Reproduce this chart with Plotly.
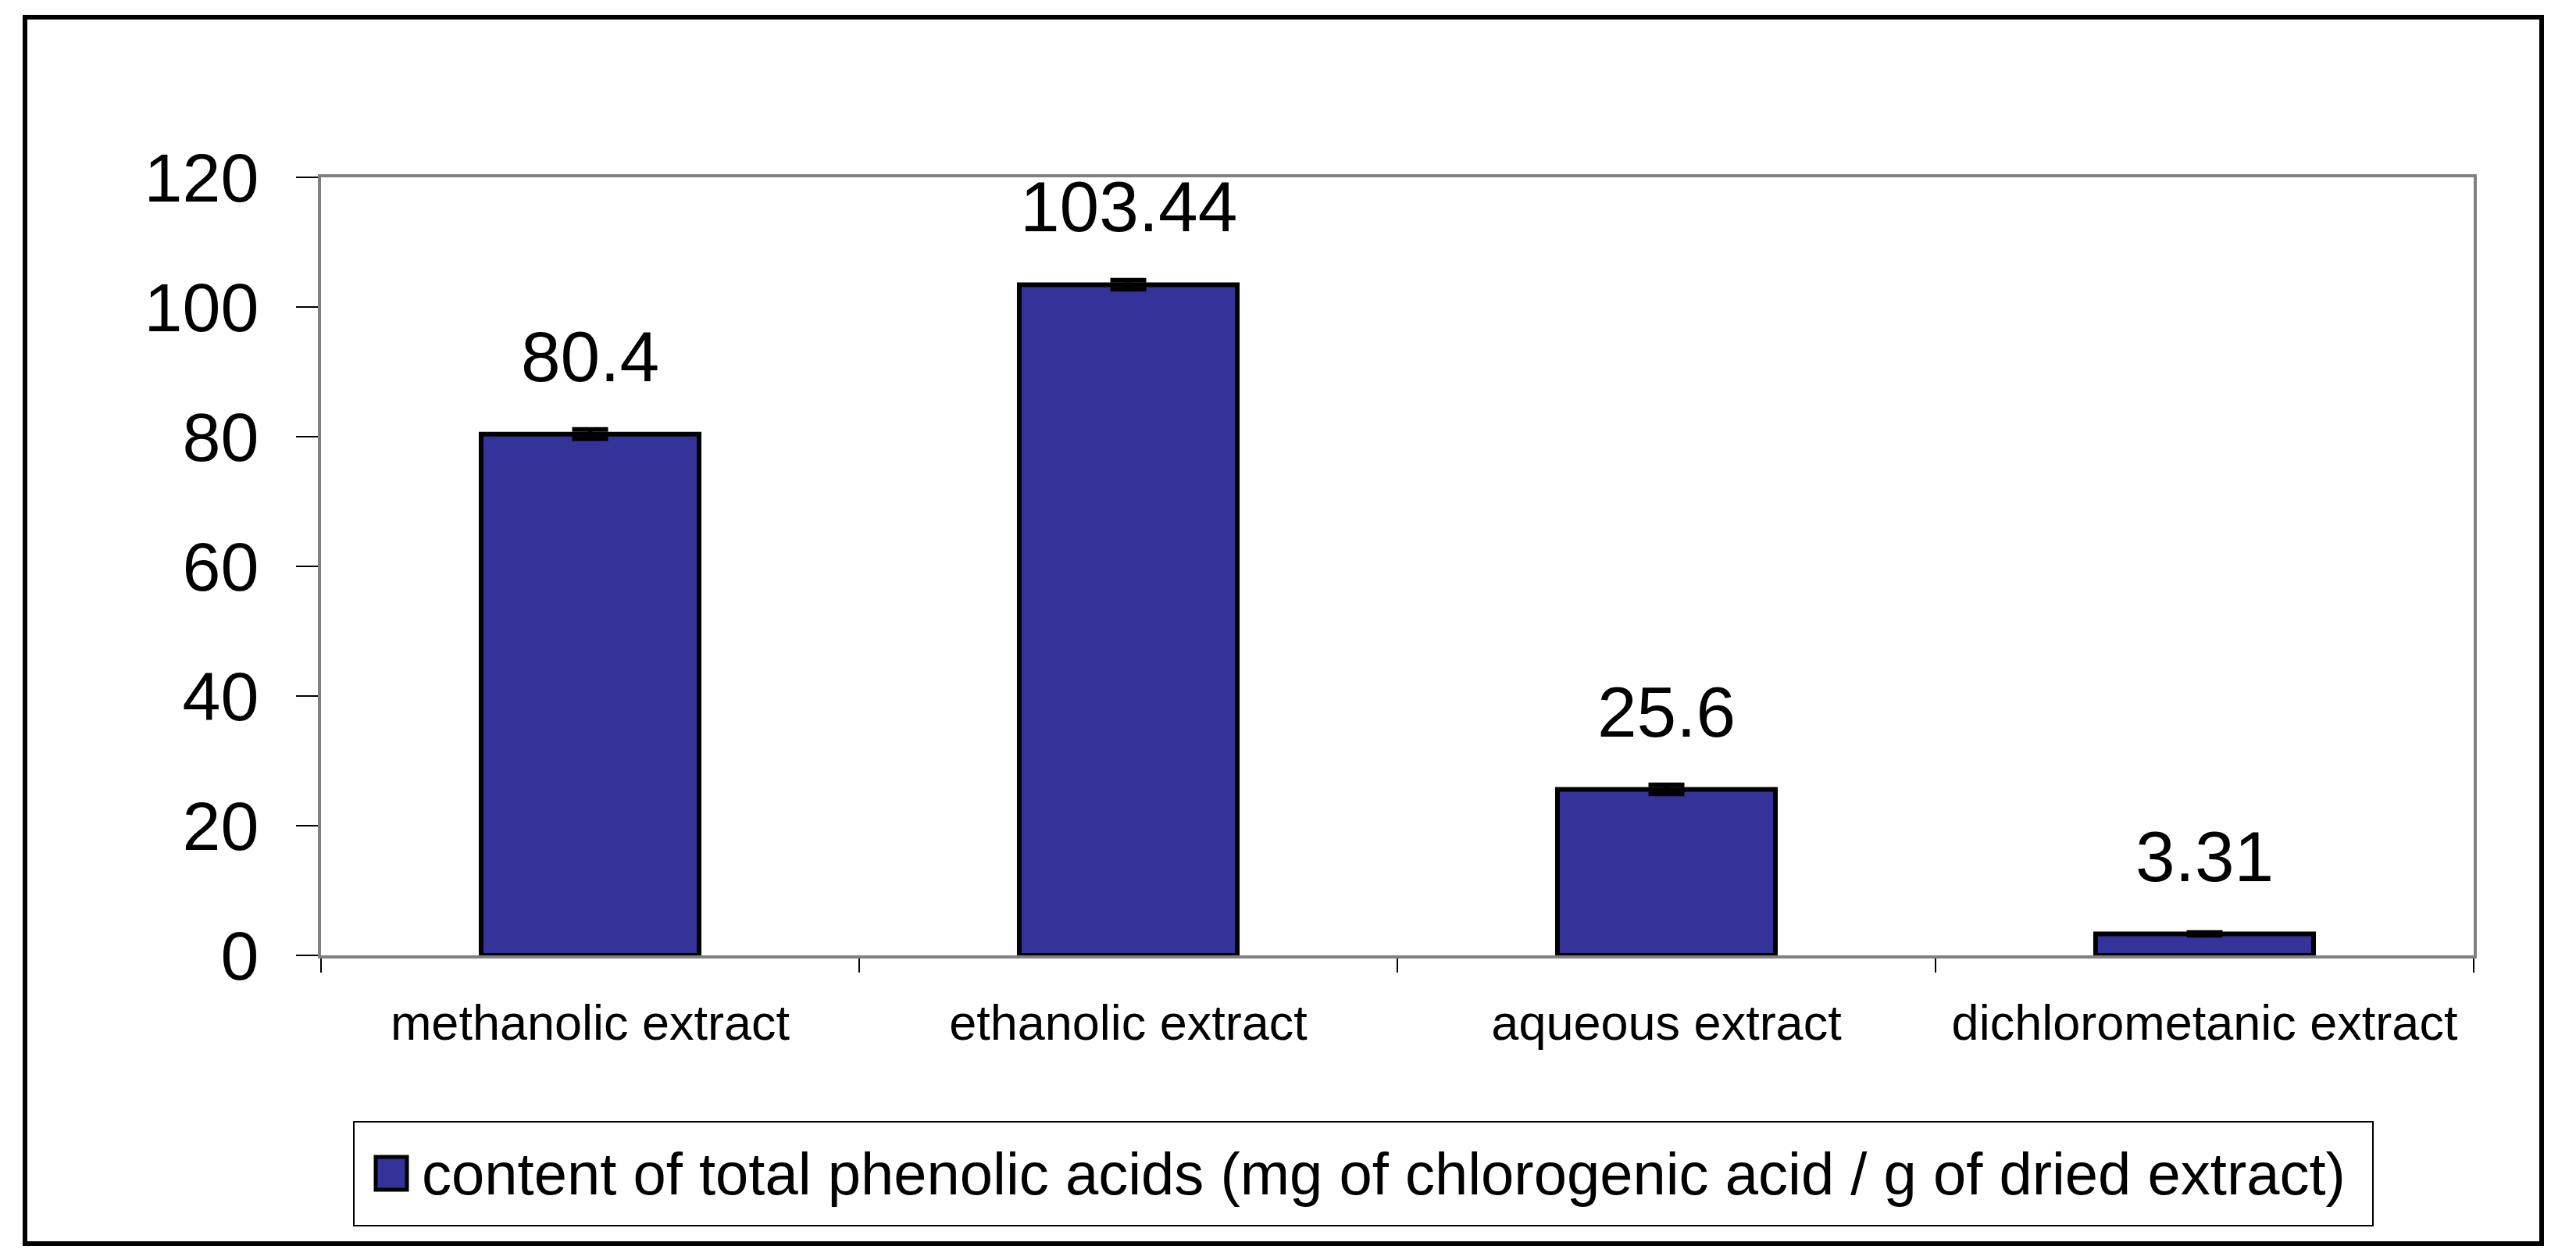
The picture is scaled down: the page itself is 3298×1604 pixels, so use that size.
import plotly.graph_objects as go

categories = ["methanolic extract", "ethanolic extract", "aqueous extract", "dichlorometanic extract"]
values = [80.4, 103.44, 25.6, 3.31]
errors = [0.7, 0.7, 0.7, 0.2]
value_labels = ["80.4", "103.44", "25.6", "3.31"]
series_name = "content of total phenolic acids (mg of chlorogenic acid / g of dried extract)"
y_ticks = [0, 20, 40, 60, 80, 100, 120]

W, H = 3298, 1604
PL, PR, PT, PB = 403, 3159, 219, 1215
FONT = "Arial, Liberation Sans, sans-serif"
BAR_COLOR = "#333399"


def px(x):
    return (x - PL) / (PR - PL)


def py(y):
    return (PB - y) / (PB - PT)


fig = go.Figure()
fig.add_trace(
    go.Bar(
        x=categories,
        y=values,
        name=series_name,
        marker=dict(color=BAR_COLOR, line=dict(color="black", width=6)),
        error_y=dict(type="data", array=errors, color="black", thickness=6, width=23),
        showlegend=False,
    )
)

for cat, val, lab in zip(categories, values, value_labels):
    fig.add_annotation(
        x=cat, y=val, text=lab, showarrow=False,
        yanchor="bottom", yshift=47,
        font=dict(family=FONT, size=91, color="black"),
    )

# outer chart border
fig.add_shape(
    type="rect", xref="paper", yref="paper",
    x0=px(24), x1=px(3246), y0=py(14), y1=py(1584),
    line=dict(color="black", width=6), layer="below",
)
# legend box, swatch and text
fig.add_shape(
    type="rect", xref="paper", yref="paper",
    x0=px(445), x1=px(3030), y0=py(1428), y1=py(1561),
    line=dict(color="black", width=2), layer="below",
)
fig.add_shape(
    type="rect", xref="paper", yref="paper",
    x0=px(473), x1=px(513), y0=py(1473), y1=py(1515),
    line=dict(color="black", width=5), fillcolor=BAR_COLOR,
)
fig.add_annotation(
    xref="paper", yref="paper", x=px(530), y=py(1494),
    xanchor="left", yanchor="middle", showarrow=False,
    text=series_name, font=dict(family=FONT, size=76, color="black"),
)

fig.update_layout(
    width=W, height=H,
    margin=dict(l=PL, r=W - PR, t=PT, b=H - PB),
    paper_bgcolor="white", plot_bgcolor="white",
    bargap=0.595,
    font=dict(family=FONT, color="black"),
    xaxis=dict(
        range=[-0.5, 3.5],
        showline=True, linecolor="#808080", linewidth=4, mirror=True,
        ticks="outside", tickson="boundaries", ticklen=18,
        tickcolor="black", tickwidth=2,
        tickfont=dict(family=FONT, size=63, color="black"),
        ticklabelstandoff=28,
        showgrid=False,
    ),
    yaxis=dict(
        range=[0, 120], tickvals=y_ticks,
        showline=True, linecolor="#808080", linewidth=4, mirror=True,
        ticks="outside", ticklen=28, tickcolor="black", tickwidth=2,
        tickfont=dict(family=FONT, size=88, color="black"),
        ticklabelstandoff=30,
        showgrid=False, zeroline=False,
    ),
)

fig.write_html("out.html")
